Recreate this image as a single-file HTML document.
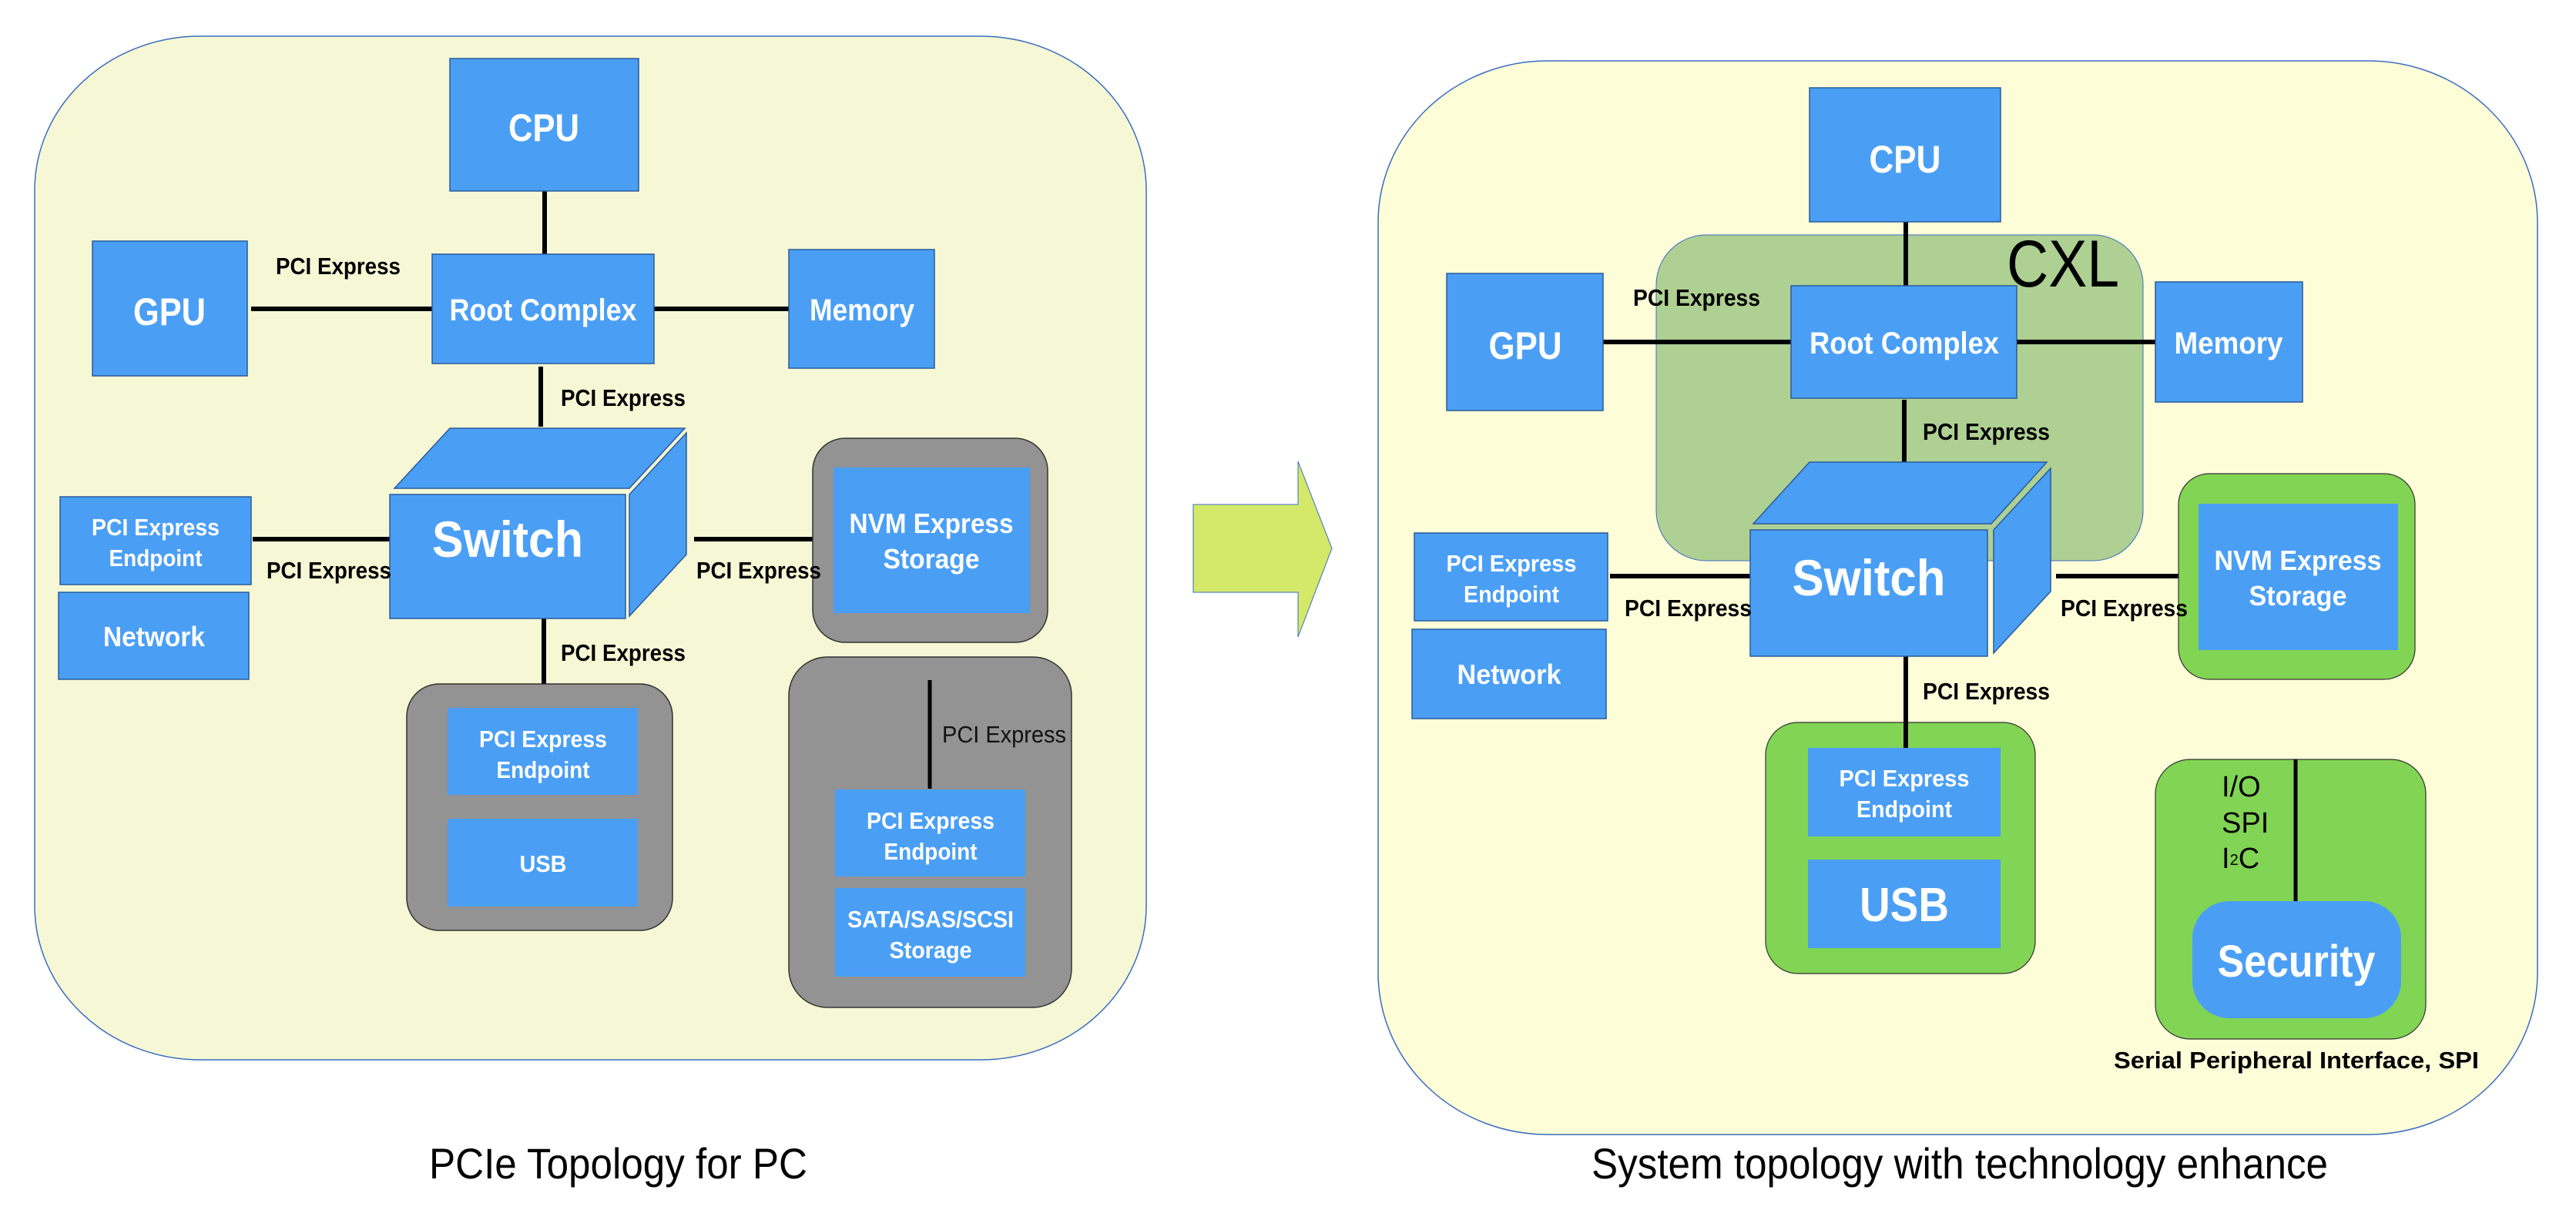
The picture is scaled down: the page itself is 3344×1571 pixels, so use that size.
<!DOCTYPE html>
<html><head><meta charset="utf-8"><style>
html,body{margin:0;padding:0;background:#fff;}
svg{display:block;}
text{font-family:"Liberation Sans",sans-serif;}
.w{fill:#fff;font-weight:bold;}
.lb{font-weight:bold;font-size:31px;fill:#000;}
</style></head><body>
<svg width="3344" height="1571" viewBox="0 0 3344 1571" xmlns="http://www.w3.org/2000/svg">
<rect x="45" y="47" width="1443" height="1329" rx="215" ry="200" fill="#f6f8d5" stroke="#3a6cc0" stroke-width="1.5"/>
<g stroke="#000" stroke-width="6">
<line x1="707" y1="248" x2="707" y2="330"/>
<line x1="326" y1="401" x2="561" y2="401"/>
<line x1="849" y1="401" x2="1024" y2="401"/>
<line x1="702" y1="476" x2="702" y2="554"/>
<line x1="328" y1="700" x2="506" y2="700"/>
<line x1="901" y1="700" x2="1082" y2="700"/>
<line x1="706" y1="803" x2="706" y2="920"/>
</g>
<rect x="1055" y="569" width="305" height="265" rx="42" fill="#939393" stroke="#333" stroke-width="1.5"/>
<rect x="1082" y="607" width="255" height="189" fill="#4a9ff5"/>
<rect x="528" y="888" width="345" height="320" rx="42" fill="#939393" stroke="#333" stroke-width="1.5"/>
<rect x="581" y="919" width="247" height="113" fill="#4a9ff5"/>
<rect x="581" y="1063" width="247" height="114" fill="#4a9ff5"/>
<rect x="1024" y="853" width="367" height="455" rx="50" fill="#939393" stroke="#333" stroke-width="1.5"/>
<line x1="1207" y1="883" x2="1207" y2="1024" stroke="#000" stroke-width="5"/>
<rect x="1084" y="1025" width="247" height="113" fill="#4a9ff5"/>
<rect x="1084" y="1153" width="247" height="115" fill="#4a9ff5"/>
<g fill="#4a9ff5" stroke="#2a5a9a" stroke-width="1.5">
<rect x="584" y="76" width="245" height="172"/>
<rect x="561" y="330" width="288" height="142"/>
<rect x="120" y="313" width="201" height="175"/>
<rect x="1024" y="324" width="189" height="154"/>
<polygon points="512,634 584,556 889,556 817,634"/>
<polygon points="817,642 891,562 891,720 817,800"/>
<rect x="506" y="642" width="306" height="161"/>
<rect x="78" y="645" width="248" height="114"/>
<rect x="76" y="769" width="247" height="113"/>
</g>
<g class="w" text-anchor="middle">
<text x="706" y="183" font-size="50" textLength="92" lengthAdjust="spacingAndGlyphs">CPU</text>
<text x="705" y="416" font-size="40" textLength="243" lengthAdjust="spacingAndGlyphs">Root Complex</text>
<text x="220" y="422" font-size="50" textLength="94" lengthAdjust="spacingAndGlyphs">GPU</text>
<text x="1119" y="416" font-size="40" textLength="136" lengthAdjust="spacingAndGlyphs">Memory</text>
<text x="659" y="723" font-size="66" textLength="196" lengthAdjust="spacingAndGlyphs">Switch</text>
<text x="202" y="695" font-size="31" textLength="166" lengthAdjust="spacingAndGlyphs">PCI Express</text>
<text x="202" y="735" font-size="31" textLength="121" lengthAdjust="spacingAndGlyphs">Endpoint</text>
<text x="200" y="839" font-size="36" textLength="132" lengthAdjust="spacingAndGlyphs">Network</text>
<text x="1209" y="692" font-size="36" textLength="213" lengthAdjust="spacingAndGlyphs">NVM Express</text>
<text x="1209" y="738" font-size="36" textLength="125" lengthAdjust="spacingAndGlyphs">Storage</text>
<text x="705" y="970" font-size="31" textLength="166" lengthAdjust="spacingAndGlyphs">PCI Express</text>
<text x="705" y="1010" font-size="31" textLength="121" lengthAdjust="spacingAndGlyphs">Endpoint</text>
<text x="705" y="1132" font-size="31" textLength="61" lengthAdjust="spacingAndGlyphs">USB</text>
<text x="1208" y="1076" font-size="31" textLength="166" lengthAdjust="spacingAndGlyphs">PCI Express</text>
<text x="1208" y="1116" font-size="31" textLength="121" lengthAdjust="spacingAndGlyphs">Endpoint</text>
<text x="1208" y="1204" font-size="31" textLength="216" lengthAdjust="spacingAndGlyphs">SATA/SAS/SCSI</text>
<text x="1208" y="1244" font-size="31" textLength="107" lengthAdjust="spacingAndGlyphs">Storage</text>
</g>
<g class="lb">
<text x="358" y="356" textLength="162" lengthAdjust="spacingAndGlyphs">PCI Express</text>
<text x="728" y="527" textLength="162" lengthAdjust="spacingAndGlyphs">PCI Express</text>
<text x="346" y="751" textLength="162" lengthAdjust="spacingAndGlyphs">PCI Express</text>
<text x="904" y="751" textLength="162" lengthAdjust="spacingAndGlyphs">PCI Express</text>
<text x="728" y="858" textLength="162" lengthAdjust="spacingAndGlyphs">PCI Express</text>
</g>
<text x="1223" y="964" font-size="31" fill="#111" textLength="161" lengthAdjust="spacingAndGlyphs">PCI Express</text>
<text x="557" y="1530" font-size="56" fill="#000" textLength="491" lengthAdjust="spacingAndGlyphs">PCIe Topology for PC</text>
<polygon points="1549,655 1685,655 1685,599 1729,712 1685,827 1685,769 1549,769" fill="#d4e86a" stroke="#3a6cc0" stroke-width="1"/>
<rect x="1789" y="79" width="1505" height="1394" rx="220" ry="210" fill="#fdfed8" stroke="#3a6cc0" stroke-width="1.5"/>
<rect x="2150" y="305" width="632" height="423" rx="65" fill="#aed093" stroke="#3a6cc0" stroke-width="1"/>
<text x="2605" y="372" font-size="86" fill="#000" textLength="146" lengthAdjust="spacingAndGlyphs">CXL</text>
<g stroke="#000" stroke-width="6">
<line x1="2474" y1="288" x2="2474" y2="371"/>
<line x1="2081" y1="444" x2="2325" y2="444"/>
<line x1="2618" y1="444" x2="2798" y2="444"/>
<line x1="2472" y1="519" x2="2472" y2="600"/>
<line x1="2090" y1="748" x2="2272" y2="748"/>
<line x1="2669" y1="748" x2="2854" y2="748"/>
<line x1="2474" y1="852" x2="2474" y2="972"/>
</g>
<rect x="2828" y="615" width="307" height="267" rx="40" fill="#82d454" stroke="#333" stroke-width="1.2"/>
<rect x="2854" y="654" width="259" height="190" fill="#4a9ff5"/>
<rect x="2292" y="938" width="350" height="326" rx="42" fill="#82d454" stroke="#333" stroke-width="1.2"/>
<line x1="2474" y1="938" x2="2474" y2="972" stroke="#000" stroke-width="6"/>
<rect x="2347" y="971" width="250" height="115" fill="#4a9ff5"/>
<rect x="2347" y="1116" width="250" height="115" fill="#4a9ff5"/>
<rect x="2798" y="986" width="351" height="363" rx="45" fill="#82d454" stroke="#333" stroke-width="1.2"/>
<line x1="2980" y1="986" x2="2980" y2="1177" stroke="#000" stroke-width="5"/>
<rect x="2846" y="1170" width="271" height="152" rx="48" fill="#4a9ff5"/>
<g fill="#4a9ff5" stroke="#2a5a9a" stroke-width="1.5">
<rect x="2349" y="114" width="248" height="174"/>
<rect x="2325" y="371" width="293" height="146"/>
<rect x="1878" y="355" width="203" height="178"/>
<rect x="2798" y="366" width="191" height="156"/>
<polygon points="2276,680 2349,600 2657,600 2585,680"/>
<polygon points="2588,688 2662,608 2662,768 2588,848"/>
<rect x="2272" y="688" width="308" height="164"/>
<rect x="1836" y="692" width="251" height="114"/>
<rect x="1833" y="817" width="252" height="116"/>
</g>
<g class="w" text-anchor="middle">
<text x="2473" y="224" font-size="50" textLength="93" lengthAdjust="spacingAndGlyphs">CPU</text>
<text x="2472" y="459" font-size="40" textLength="246" lengthAdjust="spacingAndGlyphs">Root Complex</text>
<text x="1980" y="466" font-size="50" textLength="95" lengthAdjust="spacingAndGlyphs">GPU</text>
<text x="2893" y="459" font-size="40" textLength="141" lengthAdjust="spacingAndGlyphs">Memory</text>
<text x="2426" y="773" font-size="66" textLength="199" lengthAdjust="spacingAndGlyphs">Switch</text>
<text x="1962" y="742" font-size="31" textLength="169" lengthAdjust="spacingAndGlyphs">PCI Express</text>
<text x="1962" y="782" font-size="31" textLength="124" lengthAdjust="spacingAndGlyphs">Endpoint</text>
<text x="1959" y="888" font-size="36" textLength="135" lengthAdjust="spacingAndGlyphs">Network</text>
<text x="2983" y="740" font-size="36" textLength="217" lengthAdjust="spacingAndGlyphs">NVM Express</text>
<text x="2983" y="786" font-size="36" textLength="127" lengthAdjust="spacingAndGlyphs">Storage</text>
<text x="2472" y="1021" font-size="31" textLength="169" lengthAdjust="spacingAndGlyphs">PCI Express</text>
<text x="2472" y="1061" font-size="31" textLength="124" lengthAdjust="spacingAndGlyphs">Endpoint</text>
<text x="2472" y="1196" font-size="62" textLength="116" lengthAdjust="spacingAndGlyphs">USB</text>
<text x="2981" y="1268" font-size="58" textLength="205" lengthAdjust="spacingAndGlyphs">Security</text>
</g>
<g class="lb">
<text x="2120" y="397" textLength="165" lengthAdjust="spacingAndGlyphs">PCI Express</text>
<text x="2496" y="571" textLength="165" lengthAdjust="spacingAndGlyphs">PCI Express</text>
<text x="2109" y="800" textLength="165" lengthAdjust="spacingAndGlyphs">PCI Express</text>
<text x="2675" y="800" textLength="165" lengthAdjust="spacingAndGlyphs">PCI Express</text>
<text x="2496" y="908" textLength="165" lengthAdjust="spacingAndGlyphs">PCI Express</text>
<text x="2744" y="1387" textLength="474" lengthAdjust="spacingAndGlyphs">Serial Peripheral Interface, SPI</text>
</g>
<g font-size="38" fill="#000">
<text x="2884" y="1034">I/O</text>
<text x="2884" y="1081">SPI</text>
<text x="2884" y="1127">I<tspan font-size="20" dy="-4">2</tspan><tspan dy="4">C</tspan></text>
</g>
<text x="2066" y="1530" font-size="56" fill="#000" textLength="956" lengthAdjust="spacingAndGlyphs">System topology with technology enhance</text>
</svg>
</body></html>
